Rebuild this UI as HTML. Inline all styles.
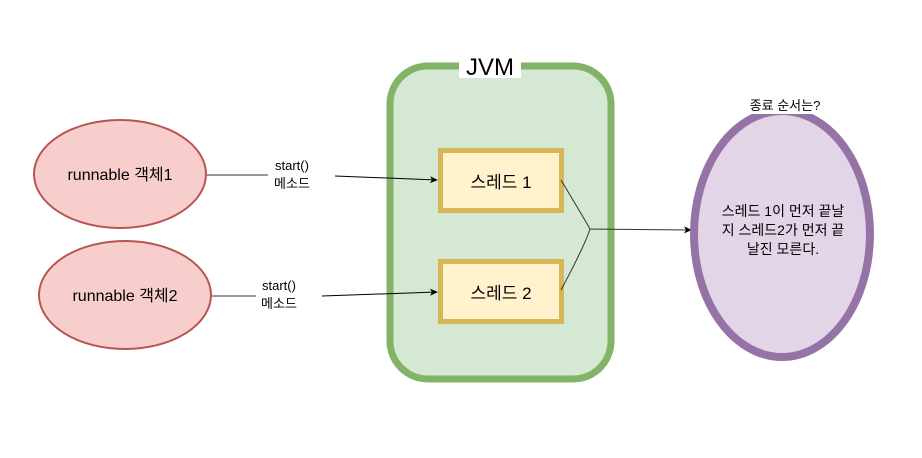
<!DOCTYPE html>
<html><head><meta charset="utf-8"><style>
html,body{margin:0;padding:0;background:#fff;}
svg text{font-family:"Liberation Sans","Noto Sans CJK KR",sans-serif;fill:#000;}
</style></head><body>
<svg width="922" height="453" viewBox="0 0 922 453" xmlns="http://www.w3.org/2000/svg">
<defs><marker id="a" markerWidth="8" markerHeight="8" refX="7" refY="4" orient="auto" markerUnits="userSpaceOnUse"><path d="M0,0.5 L8,4 L0,7.5 L2,4z" fill="#000"/></marker></defs>
<rect x="390" y="66" width="221" height="313" rx="38" fill="#d5e8d4" stroke="#82b366" stroke-width="7"/>
<rect x="459" y="52" width="62" height="26" fill="#fff"/>
<text x="490" y="75" font-size="24" text-anchor="middle">JVM</text>
<rect x="440.5" y="150.5" width="121" height="60" fill="#fff2cc" stroke="#d6b656" stroke-width="5"/>
<text x="501" y="188" font-size="17" text-anchor="middle">스레드 1</text>
<rect x="440.5" y="261.5" width="121" height="60" fill="#fff2cc" stroke="#d6b656" stroke-width="5"/>
<text x="501" y="299" font-size="17" text-anchor="middle">스레드 2</text>
<ellipse cx="120" cy="174" rx="86" ry="54" fill="#f8cecc" stroke="#b85450" stroke-width="2"/>
<text x="120" y="180" font-size="16" text-anchor="middle">runnable 객체1</text>
<ellipse cx="125" cy="295" rx="86" ry="54" fill="#f8cecc" stroke="#b85450" stroke-width="2"/>
<text x="125" y="301" font-size="16" text-anchor="middle">runnable 객체2</text>
<line x1="207" y1="175" x2="268" y2="175" stroke="#333" stroke-width="1"/>
<text x="292" y="170" font-size="13" text-anchor="middle">start()</text>
<text x="292" y="188" font-size="13" text-anchor="middle">메소드</text>
<line x1="335" y1="176" x2="437" y2="180" stroke="#000" stroke-width="1" marker-end="url(#a)"/>
<line x1="212" y1="296" x2="256" y2="296" stroke="#333" stroke-width="1"/>
<text x="279" y="290" font-size="13" text-anchor="middle">start()</text>
<text x="279" y="308" font-size="13" text-anchor="middle">메소드</text>
<line x1="322" y1="296" x2="437" y2="292" stroke="#000" stroke-width="1" marker-end="url(#a)"/>
<path d="M561,180 Q585,220 590,229 M561,290 Q585,245 590,229 M590,229 L691,230" fill="none" stroke="#333" stroke-width="1" marker-end="url(#a)"/>
<ellipse cx="782" cy="234" rx="88" ry="123" fill="#e1d5e7" stroke="#9673a6" stroke-width="8"/>
<rect x="733" y="96" width="104" height="18" fill="#fff"/>
<text x="785" y="110" font-size="13" text-anchor="middle">종료 순서는?</text>
<text x="783" y="216" font-size="14" text-anchor="middle">스레드 1이 먼저 끝날</text>
<text x="783" y="235" font-size="14" text-anchor="middle">지 스레드2가 먼저 끝</text>
<text x="783" y="254" font-size="14" text-anchor="middle">날진 모른다.</text>
</svg>
</body></html>
